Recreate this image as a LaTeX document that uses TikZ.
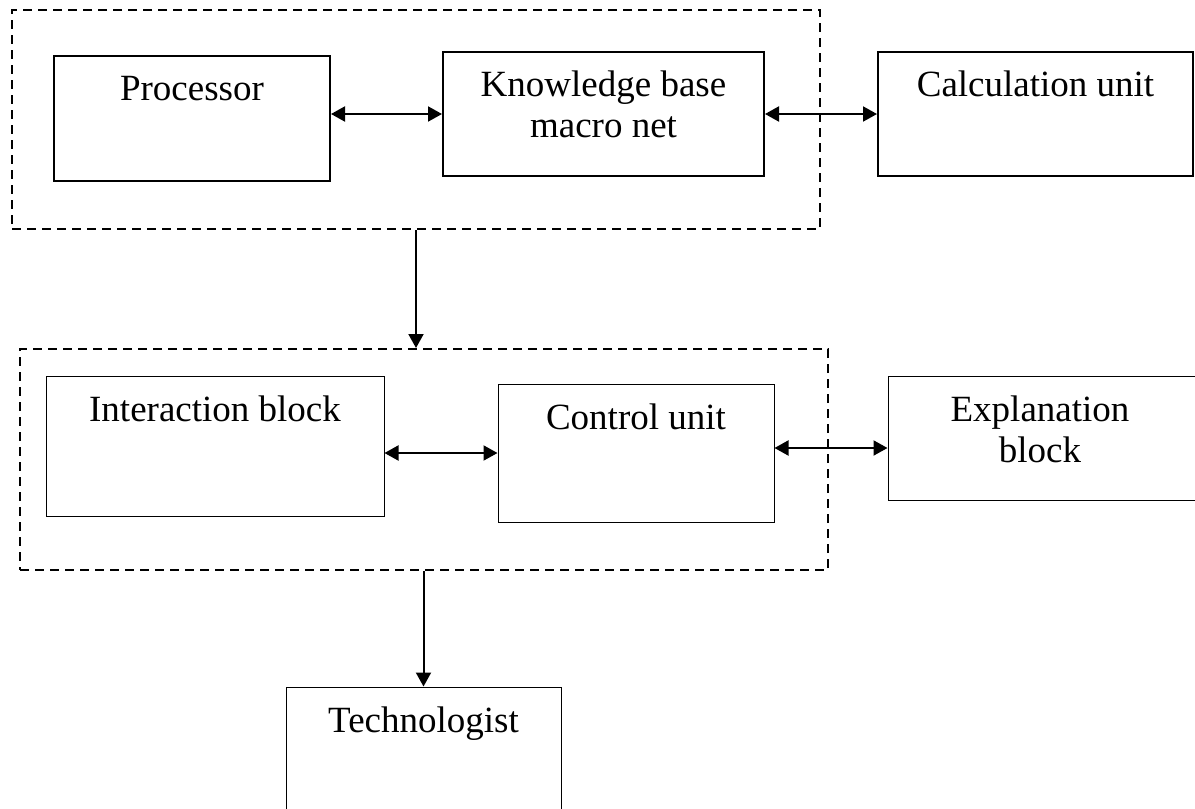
\documentclass[tikz,border=0pt]{standalone}
\usepackage{fontspec}
\setmainfont{Liberation Serif}
\usetikzlibrary{arrows.meta,calc}

\tikzset{
  thickbox/.style={draw, line width=1pt, inner sep=0pt, rectangle},
  thinbox/.style={draw, line width=0.5pt, inner sep=0pt, rectangle},
  group/.style={draw, line width=1pt, dash pattern=on 4.5pt off 3pt, inner sep=0pt, rectangle},
  lbl/.style={anchor=base, inner sep=0pt, align=center,
    font=\fontsize{18.5pt}{20.5pt}\selectfont},
  tip/.tip={Triangle[length=7pt,width=7.5pt]},
  link/.style={line width=1pt, tip-tip},
  flow/.style={line width=1pt, -tip},
}

\begin{document}
\begin{tikzpicture}[x=0.5pt,y=-0.5pt]
  \useasboundingbox (0,0) rectangle (1195,809);

  % upper group: processor and knowledge base
  \node[group, minimum width=404pt, minimum height=109.5pt] (topg) at (416,119.5) {};
  \node[thickbox, minimum width=138pt, minimum height=62.5pt] (proc) at (192,118.5) {};
  \node[thickbox, minimum width=160.5pt, minimum height=62pt] (know) at (603.5,114) {};
  \node[thickbox, minimum width=157.5pt, minimum height=62pt] (calc) at (1035.5,114) {};

  \node[lbl] (proc-t) at ([yshift=-22.75pt]proc.north) {Processor};
  \node[lbl] (know-t) at ([yshift=-43.25pt]know.north) {Knowledge base\\macro net};
  \node[lbl] (calc-t) at ([yshift=-22.75pt]calc.north) {Calculation unit};

  % lower group: interaction and control
  \node[group, minimum width=404pt, minimum height=110.5pt] (lowg) at (424,459.5) {};
  \node[thinbox, minimum width=169pt, minimum height=70pt] (inter) at (215,446) {};
  \node[thinbox, minimum width=138pt, minimum height=69pt] (ctrl) at (636,453) {};
  \node[thinbox, minimum width=156pt, minimum height=62pt] (expl) at (1044,438) {};
  \node[thinbox, minimum width=137.5pt, minimum height=80pt] (tech) at (423.5,767) {};

  \node[lbl] (inter-t) at ([yshift=-22.75pt]inter.north) {Interaction block};
  \node[lbl] (ctrl-t) at ([yshift=-22.75pt]ctrl.north) {Control unit};
  \node[lbl] (expl-t) at ([xshift=-2pt,yshift=-43.25pt]expl.north) {Explanation\\block};
  \node[lbl] (tech-t) at ([yshift=-22.75pt]tech.north) {Technologist};

  % connectors
  \draw[link] (proc.east |- know.west) -- (know.west);
  \draw[link] (know.east) -- (calc.west);
  \draw[link] (inter.east |- ctrl.west) -- (ctrl.west);
  \coordinate (ce) at ($(ctrl.east)+(0,-5)$);
  \draw[link] (ce) -- (expl.west |- ce);
  \draw[flow] (topg.south) -- (topg.south |- lowg.north);
  \draw[flow] (tech.north |- lowg.south) -- (tech.north);
\end{tikzpicture}
\end{document}
